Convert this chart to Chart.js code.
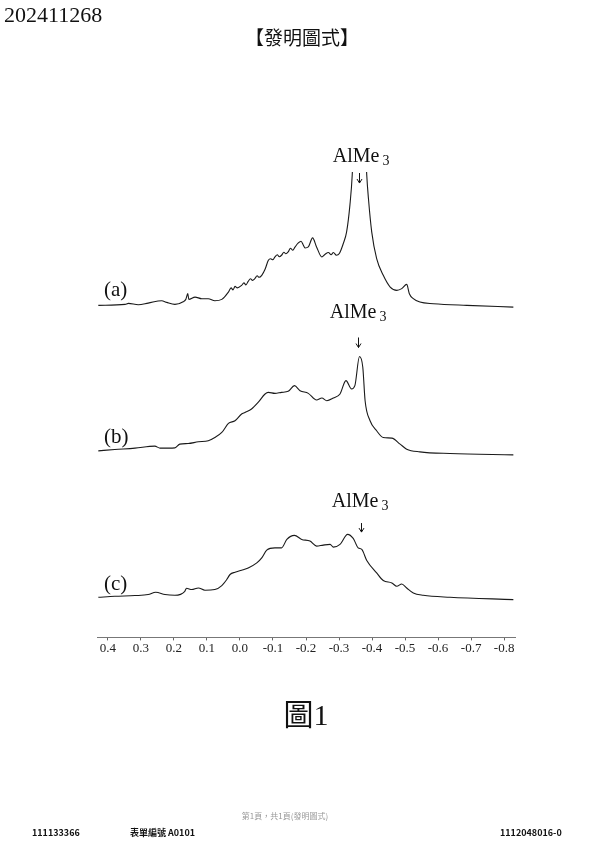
<!DOCTYPE html>
<html>
<head>
<meta charset="utf-8">
<script src="https://cdn.jsdelivr.net/npm/chart.js@4.4.1/dist/chart.umd.min.js"></script>
<style>
  html,body{margin:0;padding:0;background:#fff;}
  body{width:600px;height:849px;position:relative;overflow:hidden;}
  #c{position:absolute;left:0;top:0;}
  .t{position:absolute;white-space:nowrap;line-height:1;color:#111;}
</style>
</head>
<body>
<canvas id="c" width="600" height="849"></canvas>
<div class="t" style="left:4px;top:4px;font-family:'Liberation Serif',serif;font-size:22px;">202411268</div>
<div class="t" style="left:0;width:604px;text-align:center;top:27px;font-family:'Noto Sans CJK TC',sans-serif;font-size:19px;">【發明圖式】</div>
<div class="t" style="left:0;width:612px;text-align:center;top:697px;font-size:30px;"><span style="font-family:'Noto Sans CJK TC',sans-serif;">圖</span><span style="font-family:'Liberation Serif',serif;">1</span></div>
<div class="t" style="left:0;width:570px;text-align:center;top:812px;font-family:'Noto Sans CJK TC',sans-serif;font-size:8px;color:#999;">第1頁，共1頁(發明圖式)</div>
<div class="t" style="left:32px;top:828px;font-family:'Noto Sans CJK TC',sans-serif;font-size:9px;font-weight:bold;">111133366</div>
<div class="t" style="left:130px;top:828px;font-family:'Noto Sans CJK TC',sans-serif;font-size:9px;font-weight:bold;">表單編號 A0101</div>
<div class="t" style="left:500px;top:828px;font-family:'Noto Sans CJK TC',sans-serif;font-size:9px;font-weight:bold;">1112048016-0</div>
<script>
// ---- data (chemical shift in ppm, stacked intensity in arbitrary units) ----
const tickValues = [0.4, 0.3, 0.2, 0.1, 0.0, -0.1, -0.2, -0.3, -0.4, -0.5, -0.6, -0.7, -0.8];

const shiftA = [0.429, 0.348, 0.338, 0.308, 0.278, 0.237, 0.222, 0.197, 0.172, 0.164, 0.158, 0.155, 0.136, 0.116, 0.096, 0.076, 0.055,
  0.035, 0.027, 0.021, 0.015, 0.008, -0.005, -0.012, -0.018, -0.025, -0.032, -0.038, -0.045, -0.052, -0.058, -0.066, -0.076, -0.086,
  -0.093, -0.099, -0.106, -0.113, -0.119, -0.126, -0.133, -0.139, -0.146, -0.153, -0.160, -0.167, -0.176, -0.185, -0.192, -0.197,
  -0.207, -0.220, -0.232, -0.248, -0.258, -0.268, -0.276, -0.283, -0.292, -0.301, -0.313, -0.323, -0.333, -0.340, -0.361,
  -0.384, -0.389, -0.399, -0.414, -0.434, -0.455, -0.475, -0.490, -0.505, -0.513, -0.525, -0.545, -0.586, -0.687, -0.828];
const intensityA = [331, 332, 333, 331.7, 333.3, 335.7, 334, 332, 334.7, 337, 342.7, 337, 339.3, 337.7, 337.7, 335.7, 337,
  344.3, 348.5, 346.5, 350, 348.5, 351, 353.5, 351.5, 355, 357.5, 356, 357.7, 360.5, 359, 361, 367, 376,
  377.5, 376.5, 379.3, 381.5, 379.5, 381, 384, 382.5, 384.3, 388, 386, 389.3, 393, 395, 391, 388.3,
  389.3, 398.3, 389.3, 379.3, 382, 383.7, 381.5, 383.7, 381, 382.7, 392.7, 404.3, 431, 461, 640,
  461, 438, 404.3, 377.7, 361, 349.3, 346, 347.7, 352, 342.7, 337.7, 334.3, 332.7, 331, 329.3];

const shiftB = [0.429, 0.379, 0.318, 0.258, 0.242, 0.197, 0.182, 0.157, 0.126, 0.096, 0.076, 0.055, 0.035, 0.015, -0.005, -0.015,
  -0.035, -0.055, -0.076, -0.086, -0.106, -0.126, -0.146, -0.165, -0.182, -0.207, -0.232, -0.248, -0.263, -0.283, -0.303,
  -0.321, -0.338, -0.348, -0.362, -0.372, -0.379, -0.394, -0.414, -0.434, -0.460, -0.485, -0.505, -0.545, -0.636, -0.828];
const intensityB = [186, 187.3, 188.7, 190.7, 188.7, 189, 192.7, 193.3, 195, 196, 199.3, 204.3, 213.3, 216, 222.7, 224.3,
  227.7, 234.3, 242.7, 244.3, 243.3, 244.3, 245.3, 251, 246, 243.3, 236.7, 238.7, 236, 238.7, 242.7,
  256, 247.7, 251, 280, 269.3, 236, 216, 206, 199.3, 198.7, 192.7, 187.7, 185, 183.3, 182];

const shiftC = [0.429, 0.379, 0.318, 0.278, 0.255, 0.227, 0.197, 0.167, 0.162, 0.146, 0.126, 0.106, 0.076, 0.055, 0.040, 0.030,
  0.015, -0.005, -0.025, -0.051, -0.066, -0.081, -0.106, -0.126, -0.142, -0.165, -0.187, -0.212, -0.232, -0.252, -0.273,
  -0.283, -0.303, -0.326, -0.343, -0.358, -0.369, -0.384, -0.414, -0.434, -0.460, -0.475, -0.490, -0.505, -0.525, -0.555,
  -0.636, -0.828];
const intensityC = [40, 41, 41.7, 42.7, 45, 42.7, 42, 46, 49, 47.7, 49.3, 47, 47.7, 51.7, 57.7, 62.7,
  65, 67, 69.3, 74.3, 79.3, 87, 89.3, 89.3, 97.7, 101.7, 97.7, 96, 91, 92, 92.7,
  90, 92.7, 102.7, 98.7, 89.3, 87.7, 76.7, 64.3, 56.7, 54.3, 51, 53.3, 49.3, 44.3, 42,
  40, 37.7];

// annotations
const sampleLabels = [
  {text: '(a)', ppm: 0.412, h: 340},
  {text: '(b)', ppm: 0.412, h: 194},
  {text: '(c)', ppm: 0.412, h: 47}
];
const peakLabels = [
  {ppm: -0.367, h: 474, arrowTop: 463, arrowBottom: 453, arrowPpm: -0.361},
  {ppm: -0.358, h: 318, arrowTop: 299, arrowBottom: 289, arrowPpm: -0.358},
  {ppm: -0.364, h: 130, arrowTop: 114, arrowBottom: 105, arrowPpm: -0.367}
];

const toPts = (xs, ys) => xs.map((v, i) => ({x: v, y: ys[i]}));

const annot = {
  id: 'annot',
  afterDatasetsDraw(chart) {
    const {ctx, scales: {x, y}} = chart;
    ctx.save();
    ctx.fillStyle = '#111';
    ctx.strokeStyle = '#111';
    ctx.textBaseline = 'alphabetic';
    sampleLabels.forEach(s => {
      ctx.font = '21px "Liberation Serif"';
      ctx.textAlign = 'left';
      ctx.fillText(s.text, x.getPixelForValue(s.ppm), y.getPixelForValue(s.h));
    });
    peakLabels.forEach(p => {
      const cx = x.getPixelForValue(p.ppm), by = y.getPixelForValue(p.h);
      ctx.font = '20px "Liberation Serif"';
      const w1 = ctx.measureText('AlMe').width;
      ctx.font = '14px "Liberation Serif"';
      const w2 = ctx.measureText('3').width;
      const gap = 3, total = w1 + gap + w2;
      ctx.textAlign = 'left';
      ctx.font = '20px "Liberation Serif"';
      ctx.fillText('AlMe', cx - total / 2, by);
      ctx.font = '14px "Liberation Serif"';
      ctx.fillText('3', cx - total / 2 + w1 + gap, by + 3);
      const ax = Math.round(x.getPixelForValue(p.arrowPpm)) + 0.5;
      const t = y.getPixelForValue(p.arrowTop), b = y.getPixelForValue(p.arrowBottom);
      ctx.lineWidth = 1;
      ctx.beginPath();
      ctx.moveTo(ax, t); ctx.lineTo(ax, b);
      ctx.stroke();
      ctx.beginPath();
      ctx.moveTo(ax - 2.5, b - 4); ctx.lineTo(ax, b); ctx.lineTo(ax + 2.5, b - 4);
      ctx.stroke();
    });
    ctx.restore();
  }
};

const lineDs = (label, pts) => ({
  label, data: pts, showLine: true, borderColor: '#1a1a1a', borderWidth: 1.1,
  pointRadius: 0, cubicInterpolationMode: 'monotone', fill: false
});

new Chart(document.getElementById('c'), {
  type: 'scatter',
  data: {
    datasets: [
      lineDs('(a)', toPts(shiftA, intensityA)),
      lineDs('(b)', toPts(shiftB, intensityB)),
      lineDs('(c)', toPts(shiftC, intensityC))
    ]
  },
  options: {
    responsive: false,
    animation: false,
    layout: {padding: {left: 97, right: 85, top: 172, bottom: 193}},
    plugins: {legend: {display: false}, tooltip: {enabled: false}},
    scales: {
      x: {
        type: 'linear', reverse: true, min: -0.833, max: 0.433,
        afterBuildTicks: axis => { axis.ticks = tickValues.map(v => ({value: v})); },
        ticks: {
          autoSkip: false, maxRotation: 0, padding: 0, color: '#222',
          font: {family: 'Liberation Serif', size: 13},
          callback: v => (Math.abs(v) < 1e-9 ? '0.0' : Number(v).toFixed(1))
        },
        grid: {display: true, drawOnChartArea: false, drawTicks: true, tickLength: 3, color: '#666'},
        border: {display: true, color: '#777', width: 1}
      },
      y: {type: 'linear', display: false, min: 0, max: 464}
    }
  },
  plugins: [annot]
});
</script>
</body>
</html>
